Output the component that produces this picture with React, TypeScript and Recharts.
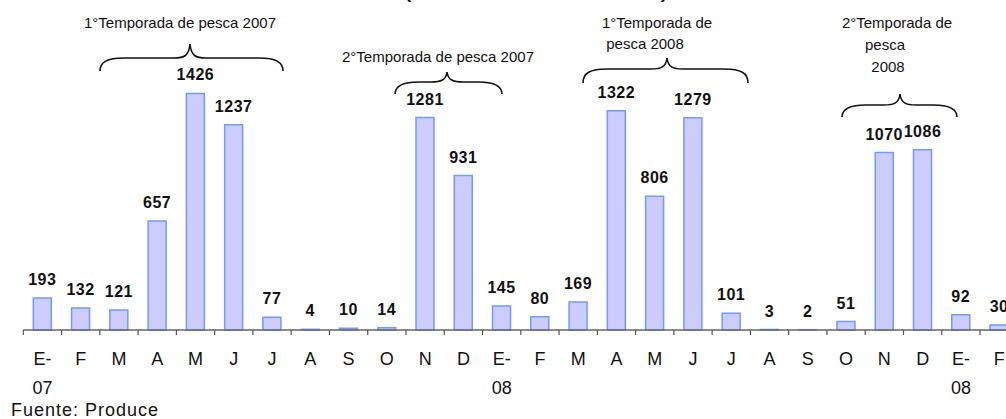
import { BarChart, Bar, XAxis, YAxis, LabelList } from "recharts";

// meses (E = enero); los de dos líneas llevan el año
const months = [
  "E-\n07", "F", "M", "A", "M", "J", "J", "A", "S", "O", "N", "D",
  "E-\n08", "F", "M", "A", "M", "J", "J", "A", "S", "O", "N", "D",
  "E-\n08", "F",
];

const catches = [
  193, 132, 121, 657, 1426, 1237, 77, 4, 10, 14, 1281, 931,
  145, 80, 169, 1322, 806, 1279, 101, 3, 2, 51, 1070, 1086,
  92, 30,
];

const data = months.map((m, i) => ({ key: String(i), mes: m, valor: catches[i] }));

const FONT = "Arial, 'Liberation Sans', sans-serif";

// llaves de temporada (coordenadas de página)
const seasons = [
  { lines: [{ t: "1°Temporada de pesca  2007", x: 180, y: 28 }], x1: 100, x2: 283, xc: 190, yb: 71, ym: 58, yt: 44 },
  { lines: [{ t: "2°Temporada de pesca  2007", x: 438, y: 62 }], x1: 395, x2: 502, xc: 447, yb: 94, ym: 82, yt: 72 },
  {
    lines: [
      { t: "1°Temporada de", x: 657, y: 28 },
      { t: "pesca 2008", x: 645, y: 49 },
    ],
    x1: 583, x2: 748, xc: 667, yb: 83, ym: 69, yt: 58,
  },
  {
    lines: [
      { t: "2°Temporada de", x: 897, y: 28 },
      { t: "pesca", x: 885, y: 50 },
      { t: "2008", x: 888, y: 72 },
    ],
    x1: 842, x2: 957, xc: 900, yb: 117, ym: 105, yt: 94,
  },
];

function bracePath(x1: number, x2: number, xc: number, yb: number, ym: number, yt: number) {
  return (
    `M${x1},${yb} C${x1},${ym + 4} ${x1 + 7},${ym} ${x1 + 24},${ym} ` +
    `L${xc - 16},${ym} C${xc - 6},${ym} ${xc - 1},${ym - 2} ${xc},${yt} ` +
    `C${xc + 1},${ym - 2} ${xc + 6},${ym} ${xc + 16},${ym} ` +
    `L${x2 - 24},${ym} C${x2 - 7},${ym} ${x2},${ym + 4} ${x2},${yb}`
  );
}

const MonthTick = (props: any) => {
  const { x, y, payload } = props;
  const half = payload?.offset ?? 19;
  const lines = String(months[payload.index] ?? payload.value).split("\n");
  return (
    <g>
      <line x1={x - half} x2={x - half} y1={y} y2={y + 5} stroke="#555" strokeWidth={1.2} />
      <text x={x} y={y + 35} textAnchor="middle" fill="#111" fontSize={18} fontFamily={FONT}>
        {lines.map((l, i) => (
          <tspan key={i} x={x} dy={i === 0 ? 0 : 29}>
            {l}
          </tspan>
        ))}
      </text>
    </g>
  );
};

export default function App() {
  return (
    <div
      style={{
        position: "absolute",
        left: 0,
        top: 0,
        width: 1006,
        height: 419,
        overflow: "hidden",
        background: "#fff",
        fontFamily: FONT,
      }}
    >
      <BarChart
        width={1020}
        height={419}
        data={data}
        margin={{ top: 64.6, right: 1.7, left: 23.3, bottom: 29 }}
      >
        <XAxis
          dataKey="key"
          interval={0}
          height={60}
          tickSize={0}
          tickMargin={0}
          tickLine={false}
          axisLine={{ stroke: "#666", strokeWidth: 1.5 }}
          tick={<MonthTick />}
        />
        <YAxis hide domain={[0, 1600]} />
        <Bar
          dataKey="valor"
          barSize={18}
          fill="#ccccff"
          stroke="#6f9bff"
          strokeWidth={1.5}
          isAnimationActive={false}
        >
          <LabelList
            dataKey="valor"
            position="top"
            offset={13}
            style={{ fontSize: 16, fontWeight: 700, fill: "#111", letterSpacing: 0.5, fontFamily: FONT }}
          />
        </Bar>
      </BarChart>

      <svg
        width={1006}
        height={419}
        style={{ position: "absolute", left: 0, top: 0, pointerEvents: "none" }}
      >
        <text x={536} y={-1.5} textAnchor="middle" fontSize={17} fontWeight={700} fontFamily={FONT}
          textLength={262} lengthAdjust="spacingAndGlyphs" fill="#111">
          (Miles de toneladas métricas)
        </text>
        {seasons.map((s, i) => (
          <g key={i}>
            {s.lines.map((l, j) => (
              <text key={j} x={l.x} y={l.y} textAnchor="middle" fontSize={15} fontFamily={FONT} fill="#111">
                {l.t}
              </text>
            ))}
            <path d={bracePath(s.x1, s.x2, s.xc, s.yb, s.ym, s.yt)} fill="none" stroke="#111" strokeWidth={1.6} />
          </g>
        ))}
        <text x={11} y={416} fontSize={18} letterSpacing={1} fontFamily={FONT} fill="#111">
          Fuente: Produce
        </text>
      </svg>
    </div>
  );
}
